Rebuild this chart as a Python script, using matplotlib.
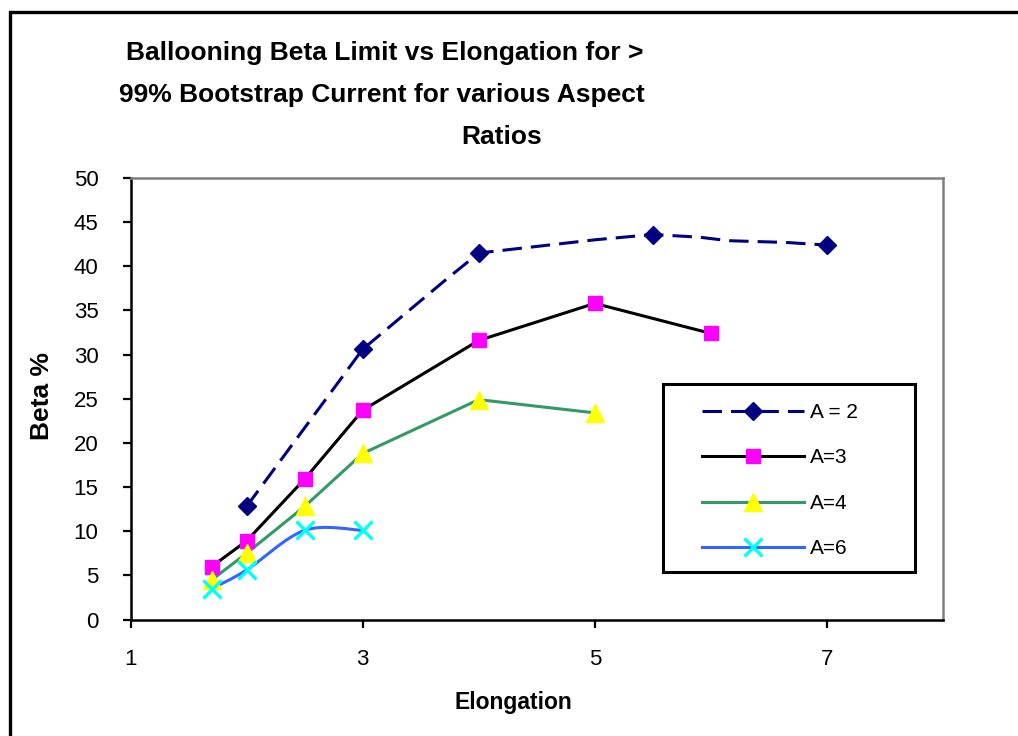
import numpy as np
import matplotlib
matplotlib.use('Agg')
import matplotlib.pyplot as plt
from matplotlib.path import Path
from matplotlib.patches import PathPatch, Rectangle
from matplotlib.lines import Line2D

plt.rcParams['font.family'] = ['Liberation Sans', 'DejaVu Sans']
plt.rcParams['lines.scale_dashes'] = False

# data
x2 = [2, 3, 4, 5.5, 7]
y2 = [12.8, 30.6, 41.5, 43.6, 42.4]
# path of the hand-shaped dashed A=2 line
x2_line = [2, 3, 3.7, 4, 5, 5.5, 5.9, 6.15, 6.65, 7]
y2_line = [12.8, 30.6, 38.3, 41.5, 43.0, 43.6, 43.3, 42.9, 42.7, 42.4]

x3 = [1.7, 2, 2.5, 3, 4, 5, 6]
y3 = [6.0, 8.9, 15.9, 23.7, 31.6, 35.8, 32.4]

x4 = [1.7, 2, 2.5, 3, 4, 5]
y4 = [4.5, 7.5, 12.8, 18.8, 24.9, 23.4]

x6 = [1.7, 2, 2.5, 3]
y6 = [3.5, 5.6, 10.1, 10.1]

labels = ['A = 2', 'A=3', 'A=4', 'A=6']
xticks = [1, 3, 5, 7]
yticks = list(range(0, 51, 5))

W, H = 1018, 736
fig = plt.figure(figsize=(W/100, H/100), dpi=100)
ax = fig.add_axes([130.5/W, 1-619.5/H, (943-130.5)/W, (619.5-178)/H])

lw = 2.2


def smooth_path(xs, ys):
    # excel-like smoothed line (catmull-rom as bezier)
    p = np.column_stack([xs, ys]).astype(float)
    pp = np.vstack([p[0], p, p[-1]])
    verts = [p[0]]
    codes = [Path.MOVETO]
    for i in range(1, len(pp)-2):
        c1 = pp[i] + (pp[i+1]-pp[i-1])/6
        c2 = pp[i+1] - (pp[i+2]-pp[i])/6
        verts += [c1, c2, pp[i+1]]
        codes += [Path.CURVE4]*3
    return Path(verts, codes)


ax.plot(x2_line, y2_line, color='#000080', lw=lw, dashes=(14, 6.5), zorder=2)
ax.plot(x2, y2, ls='none', marker='D', ms=9.5, color='#000080', zorder=5)

ax.plot(x3, y3, color='black', lw=lw, zorder=2)
ax.plot(x3, y3, ls='none', marker='s', ms=10.5, color='#FF00FF', zorder=5)

ax.plot(x4, y4, color='#339966', lw=lw, zorder=2)
ax.plot(x4, y4, ls='none', marker='^', ms=13, color='#FFFF00', zorder=5)

ax.add_patch(PathPatch(smooth_path(x6, y6), fc='none', ec='#3366FF', lw=lw, zorder=2))
ax.plot(x6, y6, ls='none', marker='x', ms=13, mew=2.4, color='#00FFFF', zorder=6)

ax.set_xlim(1, 8)
ax.set_ylim(0, 50)
ax.set_xticks(xticks)
ax.set_yticks(yticks)
ax.tick_params(axis='both', direction='out', width=1.6, labelsize=16, colors='black')
ax.tick_params(axis='y', length=6, pad=17)
ax.tick_params(axis='x', length=6, pad=15)
for s in ['left', 'bottom']:
    ax.spines[s].set_color('black')
    ax.spines[s].set_linewidth(1.8)
for s in ['top', 'right']:
    ax.spines[s].set_color('#808080')
    ax.spines[s].set_linewidth(1.8)

fig.text(513/W, 1-703/H, 'Elongation', ha='center', va='center', fontsize=16.5, fontweight='bold')
fig.text(42/W, 1-396/H, 'Beta %', ha='center', va='center', rotation=90, fontsize=19, fontweight='bold')

fig.text(385/W, 1-53/H, 'Ballooning Beta Limit vs Elongation for >', ha='center', va='center',
         fontsize=19, fontweight='bold')
fig.text(382/W, 1-95/H, '99% Bootstrap Current for various Aspect', ha='center', va='center',
         fontsize=19, fontweight='bold')
fig.text(502/W, 1-137/H, 'Ratios', ha='center', va='center', fontsize=19, fontweight='bold')

handles = [
    Line2D([], [], color='#000080', lw=lw, dashes=(14, 6.5), marker='D', ms=9.5,
           mfc='#000080', mec='#000080'),
    Line2D([], [], color='black', lw=lw, marker='s', ms=10.5, mfc='#FF00FF', mec='#FF00FF'),
    Line2D([], [], color='#339966', lw=lw, marker='^', ms=13, mfc='#FFFF00', mec='#FFFF00'),
    Line2D([], [], color='#3366FF', lw=lw, marker='x', ms=13, mew=2.4, mfc='#00FFFF', mec='#00FFFF'),
]
leg = fig.legend(handles, labels, loc='upper left', bbox_to_anchor=(702/W, 1-403/H),
                 frameon=False, fontsize=15, handlelength=4.9, handletextpad=0.3,
                 labelspacing=1.27, borderpad=0, borderaxespad=0)
fig.patches.append(Rectangle((663/W, 1-572/H), 252/W, 188/H, transform=fig.transFigure,
                             fill=False, ec='black', lw=2.2, zorder=10))
# outer frame
fig.patches.append(Rectangle((10/W, -0.05), 1.1, 1-12/H+0.05, transform=fig.transFigure,
                             fill=False, ec='black', lw=2.4))

fig.savefig('out.png', dpi=100)
